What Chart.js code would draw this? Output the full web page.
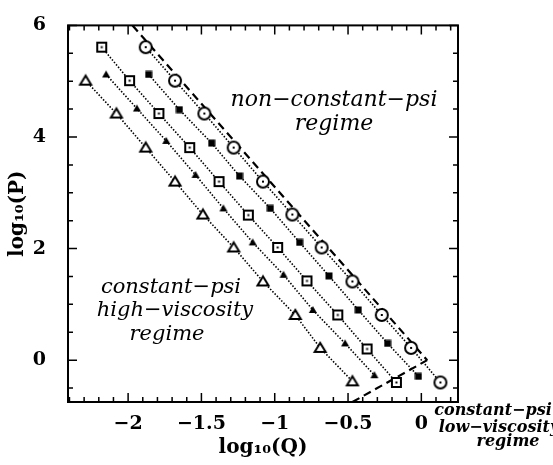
<!DOCTYPE html>
<html>
<head>
<meta charset="utf-8">
<script src="https://cdn.jsdelivr.net/npm/chart.js@4.4.0/dist/chart.umd.min.js"></script>
<style>
  html, body { margin: 0; padding: 0; background: #fff; }
</style>
</head>
<body>
<canvas id="chart" width="553" height="465"></canvas>
<script>
// log10(Q), log10(P), one pair of arrays per symbol
const openTriQ = [-2.29, -2.08, -1.88, -1.68, -1.49, -1.28, -1.08, -0.86, -0.69, -0.47];
const openTriP = [5.01, 4.42, 3.81, 3.20, 2.61, 2.02, 1.41, 0.81, 0.22, -0.38];
const fillTriQ = [-2.15, -1.94, -1.74, -1.54, -1.35, -1.15, -0.94, -0.74, -0.52, -0.32];
const fillTriP = [5.12, 4.51, 3.93, 3.32, 2.72, 2.11, 1.53, 0.90, 0.30, -0.27];
const openSqQ = [-2.18, -1.99, -1.79, -1.58, -1.38, -1.18, -0.98, -0.78, -0.57, -0.37, -0.17];
const openSqP = [5.61, 5.01, 4.42, 3.81, 3.20, 2.60, 2.02, 1.42, 0.81, 0.20, -0.40];
const fillSqQ = [-1.86, -1.65, -1.43, -1.24, -1.03, -0.83, -0.63, -0.43, -0.23, -0.02];
const fillSqP = [5.12, 4.49, 3.89, 3.30, 2.72, 2.11, 1.51, 0.90, 0.30, -0.29];
const circQ = [-1.88, -1.68, -1.48, -1.28, -1.08, -0.88, -0.68, -0.47, -0.27, -0.07, 0.13];
const circP = [5.61, 5.01, 4.42, 3.81, 3.20, 2.61, 2.02, 1.41, 0.81, 0.22, -0.40];

// regime boundaries (dashed)
const upperEdgeQ = [-1.97, 0.04];
const upperEdgeP = [6.0, 0.0];
const lowerEdgeQ = [-0.47, 0.04];
const lowerEdgeP = [-0.75, 0.0];

const xTicks = [-2, -1.5, -1, -0.5, 0];
const yTicks = [0, 2, 4, 6];

const pts = (qs, ps) => qs.map((q, i) => ({x: q, y: ps[i]}));

function marker(kind) {
  const size = {otri: 16, ftri: 10, osq: 13, fsq: 8, circ: 16}[kind];
  const c = document.createElement('canvas');
  c.width = c.height = size;
  const g = c.getContext('2d');
  const m = size / 2;
  g.lineWidth = 2;
  g.strokeStyle = '#000';
  g.fillStyle = '#fff';
  if (kind === 'otri') {
    g.beginPath();
    g.moveTo(m, 3); g.lineTo(2.5, size - 4); g.lineTo(size - 2.5, size - 4);
    g.closePath(); g.fill(); g.stroke();
  } else if (kind === 'ftri') {
    g.fillStyle = '#000';
    g.beginPath();
    g.moveTo(m, 1); g.lineTo(1, size - 2); g.lineTo(size - 1, size - 2);
    g.closePath(); g.fill();
  } else if (kind === 'osq') {
    g.fillRect(2, 2, size - 4, size - 4);
    g.strokeRect(2, 2, size - 4, size - 4);
    g.fillStyle = '#000';
    g.fillRect(m - 1, m - 1, 2, 2);
  } else if (kind === 'fsq') {
    g.fillStyle = '#000';
    g.fillRect(0.5, 0.5, size - 1, size - 1);
  } else {
    g.beginPath();
    g.arc(m, m, 6, 0, Math.PI * 2);
    g.fill(); g.stroke();
    g.fillStyle = '#000';
    g.fillRect(m - 1, m - 1, 2, 2);
  }
  return c;
}

function dotted(qs, ps, kind) {
  return {
    data: pts(qs, ps),
    borderColor: '#000',
    borderWidth: 1.6,
    borderDash: [1.5, 1.7],
    pointStyle: marker(kind),
    pointRadius: 6,
    showLine: true,
    fill: false,
    order: 1
  };
}

function dashed(qs, ps) {
  return {
    data: pts(qs, ps),
    borderColor: '#000',
    borderWidth: 2.2,
    borderDash: [8, 5],
    pointRadius: 0,
    showLine: true,
    fill: false,
    order: 2
  };
}

const serif = 'DejaVu Serif';
const minus = v => String(v).replace('-', '\u2212');

// frame with inward ticks on all four sides, and the regime captions
const frame = {
  id: 'frame',
  afterDraw(chart) {
    const {ctx, chartArea: a, scales: {x, y}} = chart;
    ctx.save();
    ctx.strokeStyle = '#000';
    ctx.lineWidth = 1.5;
    ctx.beginPath();
    for (let k = -24; k <= 2; k++) {
      const px = x.getPixelForValue(k / 10);
      const len = k % 5 === 0 ? 9 : 5;
      ctx.moveTo(px, a.bottom); ctx.lineTo(px, a.bottom - len);
      ctx.moveTo(px, a.top); ctx.lineTo(px, a.top + len);
    }
    for (let k = -1; k <= 12; k++) {
      const py = y.getPixelForValue(k / 2);
      const len = k % 4 === 0 ? 9 : 5;
      ctx.moveTo(a.left, py); ctx.lineTo(a.left + len, py);
      ctx.moveTo(a.right, py); ctx.lineTo(a.right - len, py);
    }
    ctx.stroke();
    ctx.lineWidth = 2;
    ctx.strokeRect(a.left, a.top, a.right - a.left, a.bottom - a.top);

    ctx.fillStyle = '#000';
    ctx.textAlign = 'center';
    ctx.textBaseline = 'middle';
    ctx.font = `italic 22px "${serif}"`;
    ctx.fillText('non\u2212constant\u2212psi', 334, 100);
    ctx.fillText('regime', 334, 124);
    ctx.font = `italic 21px "${serif}"`;
    ctx.fillText('constant\u2212psi', 171, 288);
    ctx.fillText('high\u2212viscosity', 175, 311);
    ctx.fillText('regime', 167, 335);
    ctx.font = `italic bold 16px "${serif}"`;
    ctx.fillText('constant\u2212psi', 493, 411);
    ctx.fillText('low\u2212viscosity', 499, 428);
    ctx.fillText('regime', 508, 442);
    ctx.restore();
  }
};

new Chart(document.getElementById('chart'), {
  type: 'scatter',
  data: {
    datasets: [
      dashed(upperEdgeQ, upperEdgeP),
      dashed(lowerEdgeQ, lowerEdgeP),
      dotted(openTriQ, openTriP, 'otri'),
      dotted(fillTriQ, fillTriP, 'ftri'),
      dotted(openSqQ, openSqP, 'osq'),
      dotted(fillSqQ, fillSqP, 'fsq'),
      dotted(circQ, circP, 'circ')
    ]
  },
  options: {
    responsive: false,
    animation: false,
    layout: { padding: { left: 0, right: 95, top: 16, bottom: 0 } },
    plugins: { legend: { display: false }, tooltip: { enabled: false } },
    scales: {
      x: {
        type: 'linear',
        min: -2.41,
        max: 0.25,
        grid: { display: false },
        border: { display: false },
        afterBuildTicks: s => { s.ticks = xTicks.map(v => ({value: v})); },
        afterFit: s => { s.height = 63; },
        ticks: {
          autoSkip: false,
          maxRotation: 0,
          padding: 3,
          color: '#000',
          font: { family: serif, weight: 'bold', size: 19 },
          callback: v => minus(v)
        },
        title: {
          display: true,
          text: 'log\u2081\u2080(Q)',
          color: '#000',
          font: { family: serif, weight: 'bold', size: 20 },
          padding: { top: 0, bottom: 5 }
        }
      },
      y: {
        type: 'linear',
        min: -0.75,
        max: 6,
        grid: { display: false },
        border: { display: false },
        afterBuildTicks: s => { s.ticks = yTicks.map(v => ({value: v})); },
        afterFit: s => { s.width = 68; },
        ticks: {
          autoSkip: false,
          padding: 14,
          color: '#000',
          font: { family: serif, weight: 'bold', size: 19 },
          callback: v => minus(v)
        },
        title: {
          display: true,
          text: 'log\u2081\u2080(P)',
          color: '#000',
          font: { family: serif, weight: 'bold', size: 20 },
          padding: { top: 6, bottom: 0 }
        }
      }
    }
  },
  plugins: [frame]
});
</script>
</body>
</html>
